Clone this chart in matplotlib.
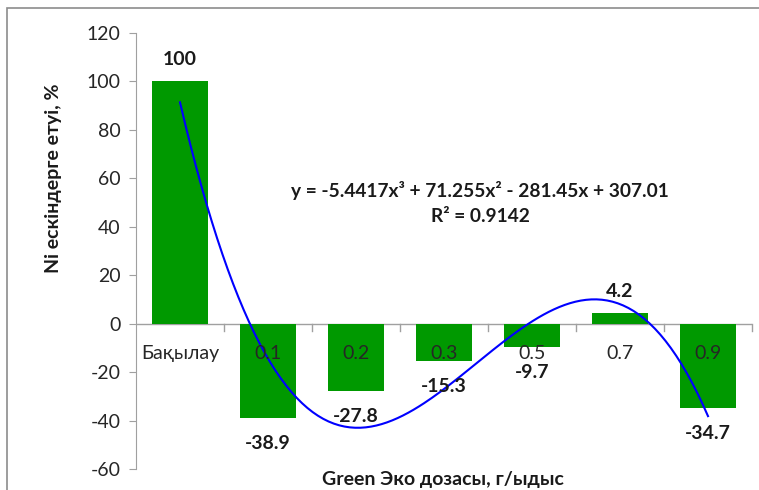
import numpy as np
import matplotlib.pyplot as plt
from matplotlib.patches import Rectangle

plt.rcParams['font.family'] = ['Lato', 'DejaVu Sans']
plt.rcParams['axes.unicode_minus'] = False

categories = ["Бақылау", "0.1", "0.2", "0.3", "0.5", "0.7", "0.9"]
values = [100, -38.9, -27.8, -15.3, -9.7, 4.2, -34.7]
eq_text = "y = -5.4417x³ + 71.255x² - 281.45x + 307.01"
r2_text = "R² = 0.9142"

fig = plt.figure(figsize=(7.59, 4.90), dpi=100)
ax = fig.add_axes([136/759, 1 - 469/490, (752-136)/759, (469-33)/490])

x = np.arange(1, len(values) + 1)
ax.bar(x, values, width=0.64, color="#009900", zorder=2)

# 3rd order trendline fitted on the bars
coef = np.polyfit(x, values, 3)
xs = np.linspace(1, len(values), 200)
ax.plot(xs, np.polyval(coef, xs), color="#0000ff", lw=1.5, zorder=3)

ax.set_xlim(0.5, len(values) + 0.5)
ax.set_ylim(-60, 120)
ax.set_yticks(range(-60, 121, 20))
ax.tick_params(axis="y", labelsize=14, length=5, color="#a0a0a0", labelcolor="#262626", pad=6)
ax.set_xticks([])

for s in ["top", "right", "bottom"]:
    ax.spines[s].set_visible(False)
ax.spines["left"].set_color("#a0a0a0")
ax.axhline(0, color="#a0a0a0", lw=1, zorder=1)

# category boundary ticks and labels under the zero line
for b in np.arange(1.5, len(values) + 1, 1):
    ax.plot([b, b], [0, -3], color="#a0a0a0", lw=1, clip_on=False)
for xi, c in zip(x, categories):
    ax.text(xi, -12.4, c, ha="center", va="center", fontsize=14, color="#262626", zorder=4)

for xi, v in zip(x, values):
    lbl = f"{v:g}"
    if v >= 0:
        ax.text(xi, v + 9, lbl, ha="center", va="center", fontsize=14, fontweight="bold", color="#1a1a1a")
    else:
        ax.text(xi, v - 10.5, lbl, ha="center", va="center", fontsize=14, fontweight="bold", color="#1a1a1a")

fig.text(480/759, 1 - 190/490, eq_text, ha="center", va="center", fontsize=13.8, fontweight="bold", color="#1a1a1a")
fig.text(480/759, 1 - 216/490, r2_text, ha="center", va="center", fontsize=13.8, fontweight="bold", color="#1a1a1a")

fig.text(54/759, 1 - 178/490, "Ni ескіндерге етуі, %", rotation=90, ha="center", va="center", fontsize=14, fontweight="bold", color="#1a1a1a")
fig.text(443/759, 1 - 479/490, "Green Эко дозасы, г/ыдыс", ha="center", va="center", fontsize=14, fontweight="bold", color="#1a1a1a")

fig.patches.append(Rectangle((7/759, -0.01), 1.0, 1 - 8/490 + 0.01, transform=fig.transFigure,
                             fill=False, edgecolor="#8c8c8c", lw=1.2))

plt.savefig("out.png", dpi=100)
